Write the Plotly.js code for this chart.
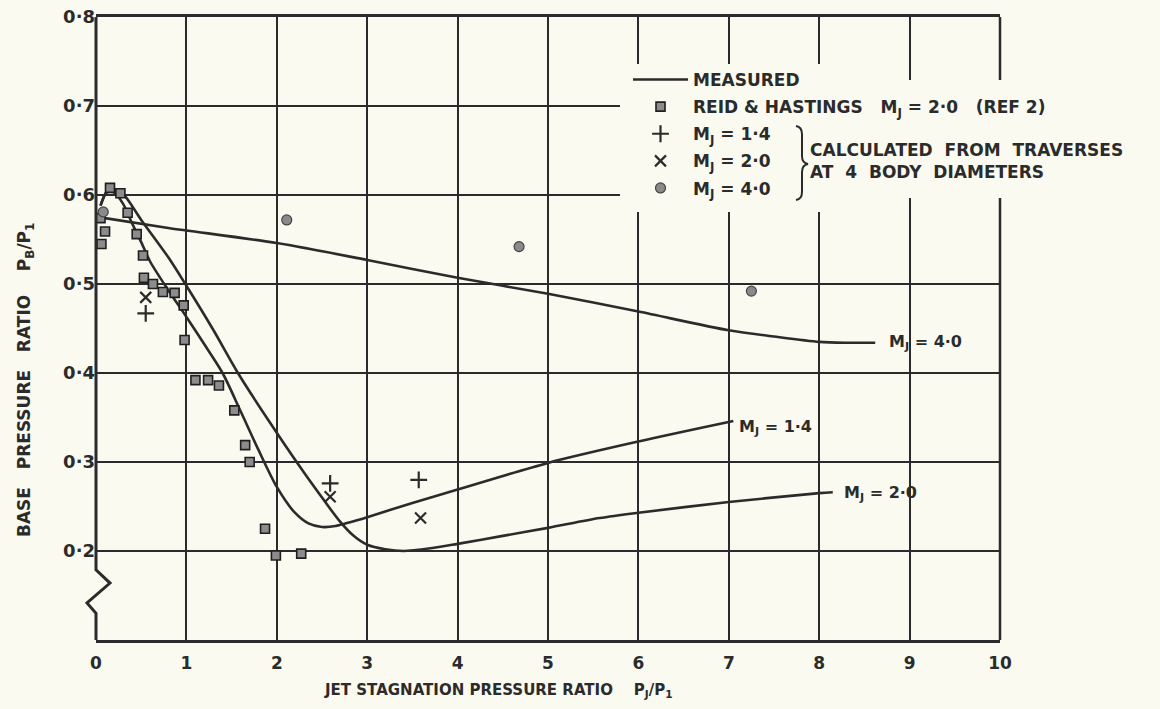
<!DOCTYPE html>
<html><head><meta charset="utf-8">
<script src="https://cdn.plot.ly/plotly-3.0.1.min.js"></script>
<style>html,body{margin:0;padding:0;background:#fafaf0;} #chart{width:1160px;height:709px;}</style>
</head><body><div id="chart"></div>
<script>
const INK = '#2b2b2b';
const BG = '#fafaf0';
const FONT = '"DejaVu Sans", "Liberation Sans", sans-serif';

// Measured curves
const measured14X = [0.05, 0.12, 0.2, 0.3, 0.4, 0.5, 0.6, 0.8, 1.0, 1.2, 1.4, 1.6, 1.8, 2.0, 2.2, 2.35, 2.5, 2.65, 2.8, 3.0, 3.5, 4.0, 5.0, 6.0, 7.05];
const measured14Y = [0.588, 0.603, 0.603, 0.590, 0.568, 0.547, 0.525, 0.493, 0.463, 0.432, 0.400, 0.357, 0.313, 0.272, 0.243, 0.231, 0.227, 0.228, 0.232, 0.238, 0.254, 0.269, 0.299, 0.323, 0.346];

const measured20X = [0.05, 0.12, 0.2, 0.3, 0.5, 0.8, 1.0, 1.3, 1.57, 1.9, 2.26, 2.5, 2.7, 2.85, 3.0, 3.2, 3.4, 3.7, 4.0, 4.5, 5.0, 5.57, 6.0, 7.0, 8.0, 8.15];
const measured20Y = [0.588, 0.604, 0.606, 0.601, 0.572, 0.530, 0.498, 0.448, 0.400, 0.348, 0.294, 0.260, 0.233, 0.217, 0.207, 0.202, 0.200, 0.203, 0.208, 0.217, 0.226, 0.237, 0.243, 0.255, 0.265, 0.266];

const measured40X = [0.1, 0.8, 2, 3, 4, 5, 6, 7, 7.5, 8, 8.3, 8.62];
const measured40Y = [0.574, 0.563, 0.546, 0.527, 0.507, 0.489, 0.469, 0.448, 0.441, 0.435, 0.434, 0.434];

// Reid & Hastings, Mj = 2.0 (Ref 2)
const reidX = [0.05, 0.1, 0.06, 0.155, 0.27, 0.35, 0.45, 0.52, 0.53, 0.63, 0.74, 0.87, 0.97, 0.98, 1.1, 1.24, 1.36, 1.53, 1.65, 1.7, 1.87, 1.99, 2.27];
const reidY = [0.574, 0.559, 0.545, 0.608, 0.602, 0.580, 0.556, 0.532, 0.507, 0.500, 0.491, 0.490, 0.476, 0.437, 0.392, 0.392, 0.386, 0.358, 0.319, 0.300, 0.225, 0.195, 0.197];

// Calculated from traverses at 4 body diameters
const calc14X = [0.55, 2.59, 3.57];
const calc14Y = [0.467, 0.276, 0.280];
const calc20X = [0.55, 2.59, 3.59];
const calc20Y = [0.485, 0.261, 0.237];
const calc40X = [0.08, 2.11, 4.68, 7.25];
const calc40Y = [0.581, 0.572, 0.542, 0.492];

// Axis ticks
const xTickVals = [0, 1, 2, 3, 4, 5, 6, 7, 8, 9, 10];
const xTickText = ['0', '1', '2', '3', '4', '5', '6', '7', '8', '9', '10'];
const yTickVals = [0.2, 0.3, 0.4, 0.5, 0.6, 0.7, 0.8];
const yTickText = ['0·2', '0·3', '0·4', '0·5', '0·6', '0·7', '0·8'];

// Curve end labels
const curveLabelText = ['M<sub>J</sub> = 4·0', 'M<sub>J</sub> = 1·4', 'M<sub>J</sub> = 2·0'];
const curveLabelX = [8.75, 7.09, 8.25];
const curveLabelY = [0.434, 0.339, 0.265];

const lineStyle = {color: INK, width: 2.6, shape: 'spline', smoothing: 0.8};

const traces = [
  {x: measured14X, y: measured14Y, mode: 'lines', line: lineStyle, name: 'MEASURED', legendgroup: 'g1'},
  {x: measured20X, y: measured20Y, mode: 'lines', line: lineStyle, name: 'MEASURED', legendgroup: 'g1', showlegend: false},
  {x: measured40X, y: measured40Y, mode: 'lines', line: lineStyle, name: 'MEASURED', legendgroup: 'g1', showlegend: false},
  {x: reidX, y: reidY, mode: 'markers', name: 'REID &amp; HASTINGS   M<sub>J</sub> = 2·0   (REF 2)', legendgroup: 'g2',
   marker: {symbol: 'square', size: 9, color: '#8c8c8c', line: {color: '#1f1f1f', width: 1.6}}},
  {x: calc14X, y: calc14Y, mode: 'markers', name: 'M<sub>J</sub> = 1·4', legendgroup: 'g3',
   marker: {symbol: 'cross-thin-open', size: 12, color: INK, line: {color: INK, width: 2.2}}},
  {x: calc20X, y: calc20Y, mode: 'markers', name: 'M<sub>J</sub> = 2·0', legendgroup: 'g4',
   marker: {symbol: 'x-thin-open', size: 11, color: INK, line: {color: INK, width: 2.2}}},
  {x: calc40X, y: calc40Y, mode: 'markers', name: 'M<sub>J</sub> = 4·0', legendgroup: 'g5',
   marker: {symbol: 'circle', size: 10, color: '#8a8a8a', line: {color: '#444', width: 1.2}}}
];

// helpers: pixel to paper
const PL = 96, PR = 1000, PT = 17, PB = 640;
const px = v => (v - PL) / (PR - PL);
const py = v => (PB - v) / (PB - PT);

const brace = 'M ' + px(796) + ',' + py(126) +
  ' Q ' + px(802) + ',' + py(127) + ' ' + px(802) + ',' + py(134) +
  ' L ' + px(802) + ',' + py(156) +
  ' Q ' + px(802) + ',' + py(163) + ' ' + px(808) + ',' + py(164) +
  ' Q ' + px(802) + ',' + py(165) + ' ' + px(802) + ',' + py(172) +
  ' L ' + px(802) + ',' + py(192) +
  ' Q ' + px(802) + ',' + py(199) + ' ' + px(796) + ',' + py(200);

const legendMask = 'M ' + px(620) + ',' + py(64) + ' L ' + px(870) + ',' + py(64) + ' L ' + px(870) + ',' + py(80) +
  ' L ' + px(1012) + ',' + py(80) + ' L ' + px(1012) + ',' + py(198) + ' L ' + px(870) + ',' + py(198) +
  ' L ' + px(870) + ',' + py(212) + ' L ' + px(620) + ',' + py(212) + ' Z';

const leftSpine = 'M 0,0.8 L 0,0.1787 L ' + (14 / 904) + ',0.164 L ' + (-9 / 904) + ',0.1416 L 0,0.130 L 0,0.1';

const shapes = [
  {type: 'rect', xref: 'paper', yref: 'y', x0: -0.005, x1: 0.005, y0: 0.131, y1: 0.178, fillcolor: BG, line: {width: 0}, layer: 'above'},
  {type: 'path', xref: 'paper', yref: 'y', path: leftSpine, line: {color: INK, width: 3}, layer: 'above'},
  {type: 'line', xref: 'paper', yref: 'paper', x0: 1, x1: 1, y0: 0, y1: 1, line: {color: INK, width: 2.5}, layer: 'above'},
  {type: 'path', xref: 'paper', yref: 'paper', path: legendMask, fillcolor: BG, line: {width: 0}, layer: 'above'},
  {type: 'path', xref: 'paper', yref: 'paper', path: brace, line: {color: INK, width: 2}, layer: 'above'}
];

const annFont = {family: FONT, size: 16, color: INK, weight: 'bold'};
const annotations = curveLabelText.map((t, i) => ({
  x: curveLabelX[i], y: curveLabelY[i], xref: 'x', yref: 'y', text: t, showarrow: false,
  xanchor: 'left', yanchor: 'middle', font: annFont
}));
annotations.push({
  x: px(808), y: py(161), xref: 'paper', yref: 'paper', xanchor: 'left', yanchor: 'middle', align: 'left',
  text: 'CALCULATED  FROM  TRAVERSES<br>AT  4  BODY  DIAMETERS', showarrow: false,
  font: {family: FONT, size: 17, color: INK, weight: 'bold'}
});
annotations.push({
  x: px(322), y: py(690), xref: 'paper', yref: 'paper', xanchor: 'left', yanchor: 'middle',
  text: 'JET STAGNATION PRESSURE RATIO    P<sub>J</sub>/P<sub>1</sub>', showarrow: false,
  font: {family: FONT, size: 15, color: INK, weight: 'bold'}
});
annotations.push({
  x: px(25), y: py(380), xref: 'paper', yref: 'paper', xanchor: 'center', yanchor: 'middle', textangle: -90,
  text: 'BASE   PRESSURE   RATIO    P<sub>B</sub>/P<sub>1</sub>', showarrow: false,
  font: {family: FONT, size: 17, color: INK, weight: 'bold'}
});

const layout = {
  width: 1160, height: 709,
  paper_bgcolor: BG, plot_bgcolor: BG,
  margin: {l: PL, r: 1160 - PR, t: PT, b: 709 - PB, pad: 0},
  font: {family: FONT, color: INK},
  showlegend: true,
  legend: {
    x: px(628), y: py(62), xanchor: 'left', yanchor: 'top',
    bgcolor: 'rgba(0,0,0,0)', borderwidth: 0, itemwidth: 55, tracegroupgap: 2,
    font: {family: FONT, size: 17, color: INK, weight: 'bold'}
  },
  xaxis: {
    range: [0, 10], tickmode: 'array', tickvals: xTickVals, ticktext: xTickText,
    showgrid: true, gridcolor: INK, gridwidth: 2, zeroline: false,
    showline: true, mirror: true, linecolor: INK, linewidth: 3, ticks: '',
    ticklabelstandoff: 6,
    tickfont: {family: FONT, size: 17, color: INK, weight: 'bold'}, fixedrange: true
  },
  yaxis: {
    range: [0.1, 0.8], tickmode: 'array', tickvals: yTickVals, ticktext: yTickText,
    showgrid: true, gridcolor: INK, gridwidth: 2, zeroline: false,
    showline: false, ticks: '',
    tickfont: {family: FONT, size: 18, color: INK, weight: 'bold'}, fixedrange: true
  },
  shapes: shapes,
  annotations: annotations
};

Plotly.newPlot('chart', traces, layout, {displayModeBar: false});
</script>
</body></html>
